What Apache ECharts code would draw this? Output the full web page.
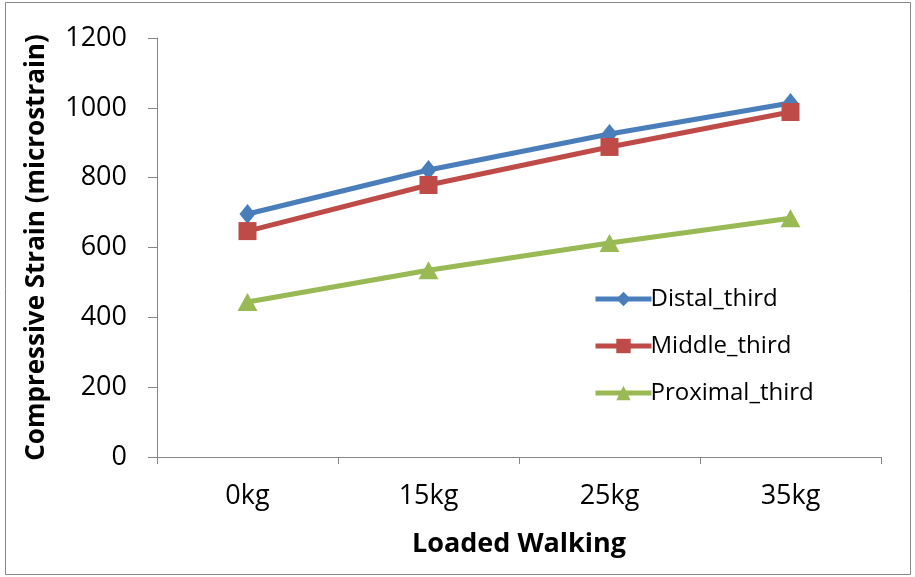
<!DOCTYPE html>
<html><head><meta charset="utf-8">
<script src="https://cdn.jsdelivr.net/npm/echarts@6/dist/echarts.min.js"></script>
<style>html,body{margin:0;padding:0;background:#fff}#c{width:915px;height:577px}</style>
</head><body><div id="c"></div>
<script>
const categories = ['0kg', '15kg', '25kg', '35kg'];
const distal = [696, 822, 925, 1014];
const middle = [647, 779, 888, 988];
const proximal = [444, 535, 613, 684];
const yTicks = [0, 200, 400, 600, 800, 1000, 1200];

const font = 'Open Sans, Noto Sans, sans-serif';
const chart = echarts.init(document.getElementById('c'));
chart.setOption({
  animation: false,
  backgroundColor: '#fff',
  graphic: [{type:'rect', shape:{x:5.5,y:2.5,width:905,height:572}, style:{fill:'none', stroke:'#888', lineWidth:1}, silent:true}],
  grid: {left:157, top:38, right:34, bottom:120},
  legend: {
    orient:'vertical', left:588, top:282, itemGap:23, itemWidth:56, itemHeight:18,
    lineStyle:{width:5},
    textStyle:{fontFamily:font, fontSize:24, color:'#000', padding:[0,0,0,-6]},
    data:['Distal_third','Middle_third','Proximal_third']
  },
  xAxis: {
    type:'category', data:categories, boundaryGap:true,
    name:'Loaded Walking', nameLocation:'middle', nameGap:74,
    nameTextStyle:{fontFamily:font, fontSize:27, fontWeight:'bold', color:'#000'},
    axisLine:{lineStyle:{color:'#868686', width:1}},
    axisTick:{show:true, length:7, lineStyle:{color:'#868686'}},
    axisLabel:{fontFamily:font, fontSize:27, color:'#000', margin:26}
  },
  yAxis: {
    type:'value', min:0, max:1200, interval:200,
    name:'Compressive Strain (microstrain)', nameLocation:'middle', nameGap:107,
    nameTextStyle:{fontFamily:font, fontSize:26, fontWeight:'bold', color:'#000'},
    axisLine:{show:true, lineStyle:{color:'#868686', width:1}},
    axisTick:{show:true, length:9, lineStyle:{color:'#868686'}},
    splitLine:{show:false},
    axisLabel:{fontFamily:font, fontSize:27, color:'#000', margin:30,
      formatter: v => yTicks.includes(v) ? String(v) : ''}
  },
  series: [
    {name:'Distal_third', type:'line', data:distal, symbol:'diamond', symbolSize:[16,20],
     lineStyle:{width:5, color:'#4a7ebb'}, itemStyle:{color:'#4a7ebb'}},
    {name:'Middle_third', type:'line', data:middle, symbol:'rect', symbolSize:18,
     lineStyle:{width:5, color:'#be4b48'}, itemStyle:{color:'#be4b48'}},
    {name:'Proximal_third', type:'line', data:proximal, symbol:'triangle', symbolSize:[20,18],
     lineStyle:{width:5, color:'#98b954'}, itemStyle:{color:'#98b954'}}
  ]
});
</script></body></html>
